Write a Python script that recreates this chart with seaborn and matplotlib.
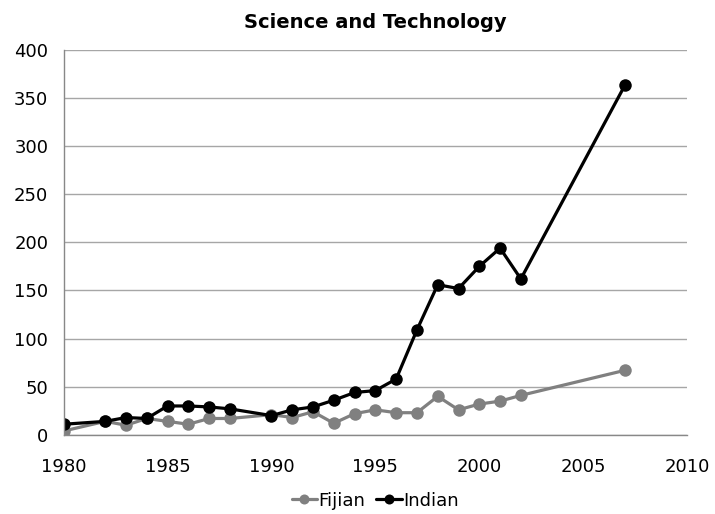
import numpy as np
import pandas as pd
import matplotlib
matplotlib.use("Agg")
import matplotlib.pyplot as plt
import seaborn as sns

years = [1980, 1982, 1983, 1984, 1985, 1986, 1987, 1988, 1990, 1991, 1992,
         1993, 1994, 1995, 1996, 1997, 1998, 1999, 2000, 2001, 2002, 2007]
fijian = [4, 14, 10, 17, 14, 11, 17, 17, 21, 18, 24,
          12, 22, 26, 23, 23, 40, 26, 32, 35, 41, 67]
indian = [11, 14, 18, 17, 30, 30, 29, 27, 20, 26, 29,
          36, 44, 46, 58, 109, 156, 152, 175, 194, 162, 363]
groups = ["Fijian", "Indian"]

df = pd.concat([
    pd.DataFrame({"year": years, "count": fijian, "group": "Fijian"}),
    pd.DataFrame({"year": years, "count": indian, "group": "Indian"}),
])

sns.set_style("white")
plt.rcParams["font.family"] = ["DejaVu Sans"]
plt.rcParams["text.color"] = "black"

fig = plt.figure(figsize=(7.15, 5.14), dpi=100)
ax = fig.add_axes([0.089, 0.154, 0.872, 0.749])

sns.lineplot(data=df, x="year", y="count", hue="group", hue_order=groups,
             palette={"Fijian": "#808080", "Indian": "#000000"},
             marker="o", markersize=9, markeredgewidth=0, linewidth=2.3,
             ax=ax, legend=True)

ax.set_xlim(1980, 2010)
ax.set_ylim(0, 400)
ax.set_xticks(np.arange(1980, 2011, 5))
ax.set_yticks(np.arange(0, 401, 50))
ax.yaxis.grid(True, color="#a6a6a6", linewidth=1)
ax.xaxis.grid(False)
ax.set_axisbelow(True)
for s in ["top", "right"]:
    ax.spines[s].set_visible(False)
for s in ["left", "bottom"]:
    ax.spines[s].set_color("#888888")
    ax.spines[s].set_linewidth(1)
ax.tick_params(axis="both", direction="out", length=5, width=1,
               color="#888888", labelsize=13, labelcolor="black")
ax.tick_params(axis="x", pad=12)
ax.tick_params(axis="y", pad=6)
ax.set_xlabel("")
ax.set_ylabel("")
ax.set_title("Science and Technology", fontsize=14, fontweight="bold",
             color="black", pad=16)

h, l = ax.get_legend_handles_labels()
leg = ax.legend(h, l, loc="upper center", bbox_to_anchor=(0.5, -0.105), ncol=2,
                frameon=False, fontsize=13, handlelength=1.4, handletextpad=0.1,
                columnspacing=0.6, markerscale=0.8)
for t in leg.get_texts():
    t.set_color("black")

fig.savefig("out.png", dpi=100)
